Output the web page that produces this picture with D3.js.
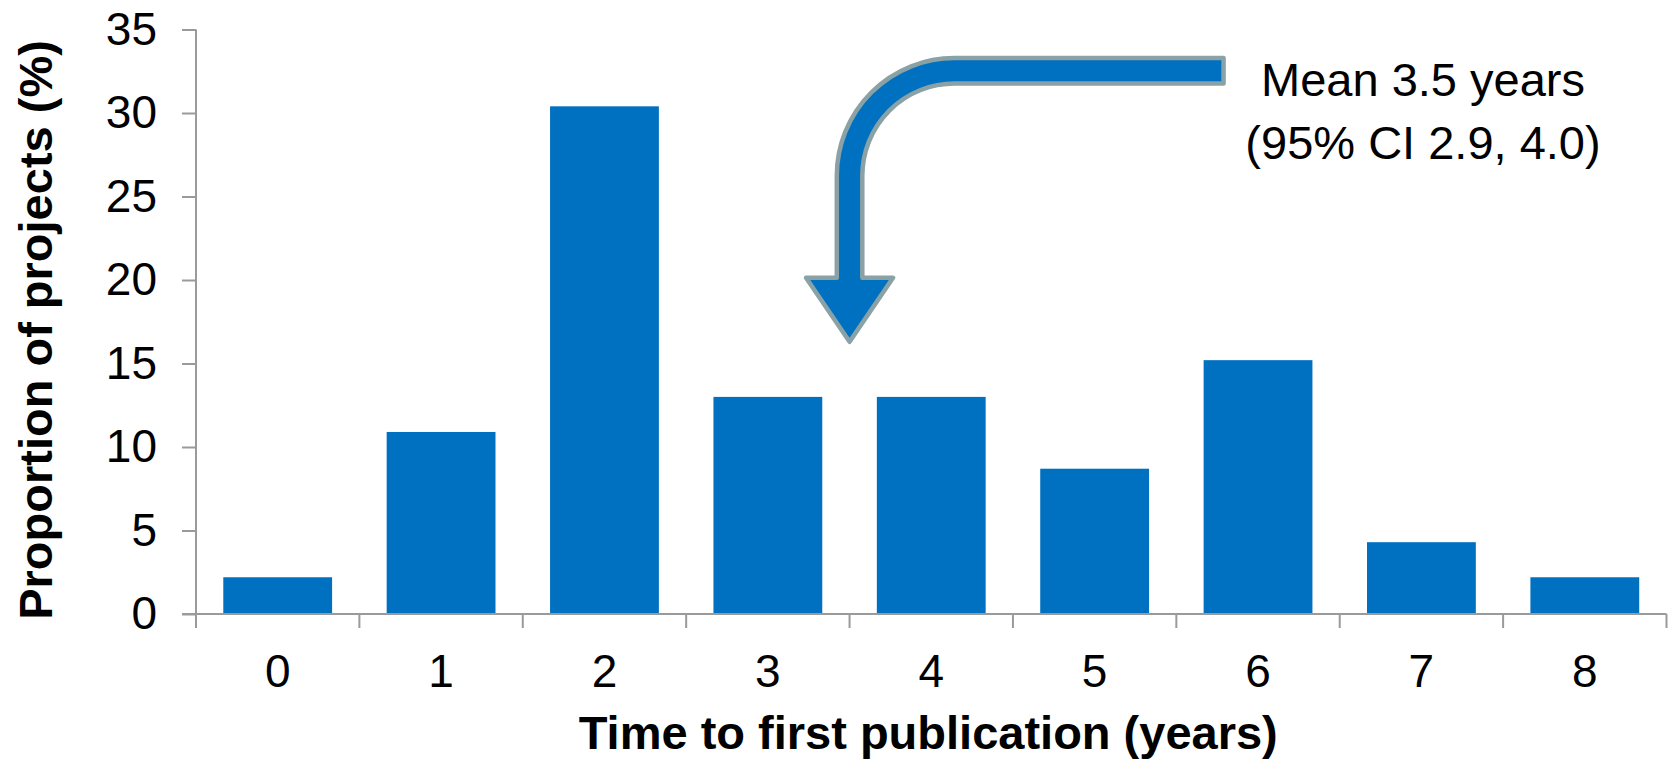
<!DOCTYPE html>
<html>
<head>
<meta charset="utf-8">
<script src="https://cdn.jsdelivr.net/npm/d3@7"></script>
<style>
  html, body { margin: 0; padding: 0; background: #fff; }
  svg { display: block; }
  text { font-family: "Liberation Sans", Arial, sans-serif; fill: #000; }
</style>
</head>
<body>
<svg id="chart" width="1671" height="760"></svg>
<script>
// Share of projects by years until the first publication
const years = ["0", "1", "2", "3", "4", "5", "6", "7", "8"];
const proportions = [2.2, 10.9, 30.4, 13.0, 13.0, 8.7, 15.2, 4.3, 2.2];
const yTicks = [0, 5, 10, 15, 20, 25, 30, 35];
const meanYears = 3.5;
const noteLines = ["Mean 3.5 years", "(95% CI 2.9, 4.0)"];

const svg = d3.select("#chart");
const plotLeft = 196, plotRight = 1666.5, plotTop = 29.5, plotBottom = 614;
const axisColor = "#9a9a9a";
const barColor = "#0070C0";

const x = d3.scaleBand()
  .domain(years)
  .range([plotLeft, plotRight])
  .paddingInner(0.334)
  .paddingOuter(0.167);

const y = d3.scaleLinear().domain([0, 35]).range([plotBottom, plotTop]);

// Bars
svg.append("g")
  .selectAll("rect")
  .data(proportions)
  .join("rect")
  .attr("x", (d, i) => x(years[i]))
  .attr("y", d => y(d))
  .attr("width", x.bandwidth())
  .attr("height", d => y(0) - y(d))
  .attr("fill", barColor);

// Y axis
const yAxis = svg.append("g")
  .attr("transform", `translate(${plotLeft},0)`)
  .call(d3.axisLeft(y).tickValues(yTicks).tickSize(14).tickPadding(25).tickSizeOuter(0));
yAxis.select(".domain").remove();
yAxis.selectAll(".tick line").attr("stroke", axisColor).attr("stroke-width", 2);
yAxis.selectAll(".tick text")
  .attr("font-size", 46)
  .attr("font-family", "Liberation Sans, Arial, sans-serif")
  .attr("fill", "#000");
yAxis.append("line")
  .attr("x1", 0).attr("x2", 0)
  .attr("y1", plotTop).attr("y2", plotBottom + 14)
  .attr("stroke", axisColor).attr("stroke-width", 2);

// X axis: baseline, category labels, and ticks between categories
const xAxis = svg.append("g")
  .attr("transform", `translate(0,${plotBottom})`)
  .call(d3.axisBottom(x).tickSize(0).tickPadding(40));
xAxis.select(".domain").remove();
xAxis.selectAll(".tick text")
  .attr("font-size", 46)
  .attr("font-family", "Liberation Sans, Arial, sans-serif")
  .attr("fill", "#000");
xAxis.append("line")
  .attr("x1", plotLeft - 14).attr("x2", plotRight)
  .attr("y1", 0).attr("y2", 0)
  .attr("stroke", axisColor).attr("stroke-width", 2);
xAxis.selectAll(".sep")
  .data(d3.range(years.length + 1))
  .join("line")
  .attr("class", "sep")
  .attr("x1", i => plotLeft + i * x.step())
  .attr("x2", i => plotLeft + i * x.step())
  .attr("y1", 0).attr("y2", 14)
  .attr("stroke", axisColor).attr("stroke-width", 2);

// Axis titles
svg.append("text")
  .attr("x", (plotLeft + plotRight) / 2 - 3)
  .attr("y", 749)
  .attr("text-anchor", "middle")
  .attr("font-size", 47)
  .attr("font-weight", "bold")
  .text("Time to first publication (years)");

svg.append("text")
  .attr("transform", "translate(52,330) rotate(-90)")
  .attr("text-anchor", "middle")
  .attr("font-size", 47)
  .attr("font-weight", "bold")
  .text("Proportion of projects (%)");

// Bent arrow pointing at the mean on the x axis
const tipX = x(years[3]) + x.bandwidth() / 2 + (meanYears - 3) * x.step();
const tipY = y(16.3);
const hw = 12.75;           // half width of the arrow body
const headHalf = 43.5;      // half width of the head
const headLen = 64;         // head length
const bendY = tipY - 166;   // where the shaft starts to bend
const armY = tipY - 271;    // centre line of the horizontal arm
const armEnd = tipX + 374;  // right end of the horizontal arm
const r = bendY - armY;     // centre-line bend radius
const cx = tipX + r;

const p = d3.path();
p.moveTo(armEnd, armY - hw);
p.lineTo(cx, armY - hw);
p.arc(cx, bendY, r + hw, -Math.PI / 2, -Math.PI, true);
p.lineTo(tipX - hw, tipY - headLen);
p.lineTo(tipX - headHalf, tipY - headLen);
p.lineTo(tipX, tipY);
p.lineTo(tipX + headHalf, tipY - headLen);
p.lineTo(tipX + hw, tipY - headLen);
p.lineTo(tipX + hw, bendY);
p.arc(cx, bendY, r - hw, -Math.PI, -Math.PI / 2, false);
p.lineTo(armEnd, armY + hw);
p.closePath();

svg.append("path")
  .attr("d", p.toString())
  .attr("fill", barColor)
  .attr("stroke", "#8aa1a6")
  .attr("stroke-width", 4.5)
  .attr("stroke-linejoin", "round");

// Annotation text
svg.append("g")
  .selectAll("text")
  .data(noteLines)
  .join("text")
  .attr("x", 1423)
  .attr("y", (d, i) => 96 + i * 63)
  .attr("text-anchor", "middle")
  .attr("font-size", 47)
  .text(d => d);
</script>
</body>
</html>
